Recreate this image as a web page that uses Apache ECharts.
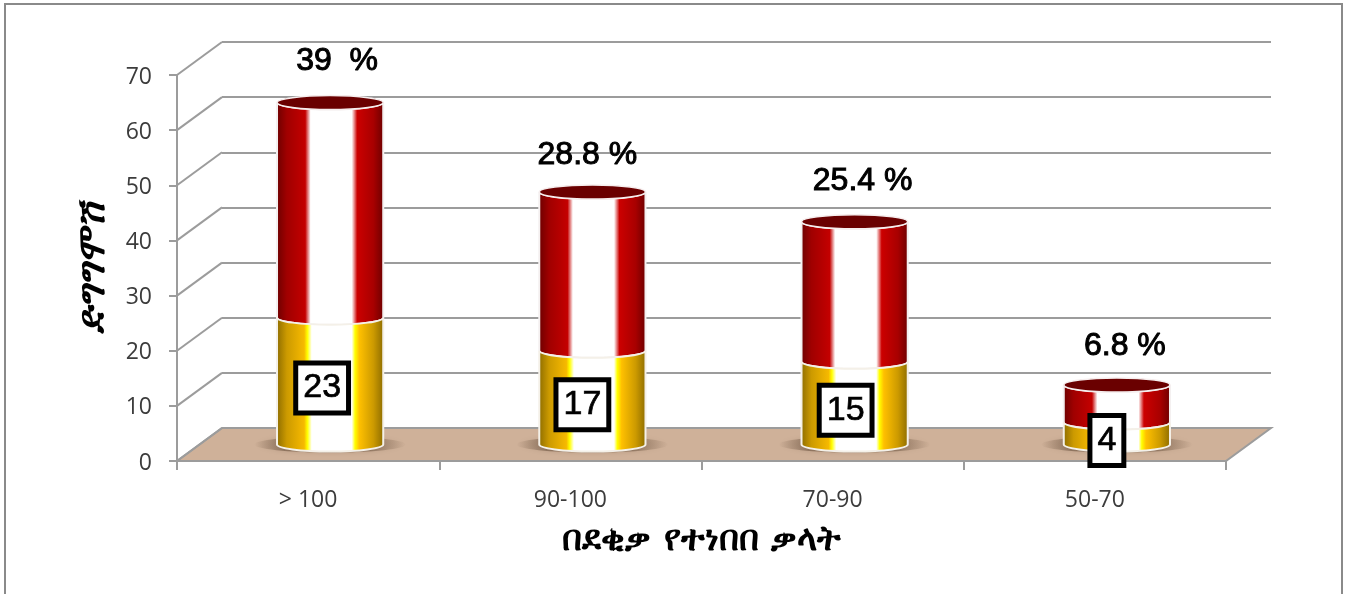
<!DOCTYPE html>
<html>
<head>
<meta charset="utf-8">
<title>chart</title>
<style>
  html, body { margin: 0; padding: 0; background: #fff; }
  #chart { width: 1347px; height: 594px; }
</style>
<script src="https://cdn.jsdelivr.net/npm/echarts@6/dist/echarts.min.js"></script>
</head>
<body>
<div id="chart"></div>
<script>
const categories = ['> 100', '90-100', '70-90', '50-70'];
const countValues = [23, 17, 15, 4];
const percentValues = [39, 28.8, 25.4, 6.8];
const percentLabels = ['39  %', '28.8 %', '25.4 %', '6.8 %'];
const yTicks = [0, 10, 20, 30, 40, 50, 60, 70];
const xTitle = 'በደቂቃ የተነበበ ቃላት';
const yTitle = 'ድግግሞሽ';

// label nudges, hand placed like in the original
const countNudgeX = [-8, -10, -9, -10];
const percentNudgeX = [7, -5, 8, 8];
const percentNudgeY = [-41, -37, -41, -39];

const depthX = 45;
const depthY = -33;
const barRatio = 0.405;
const capRy = 7;
const lineColor = '#9c9c9c';
const textColor = '#3c3c3c';

const redStops = [
  [0, '#6a0000'], [0.1, '#a00000'], [0.27, '#c40000'], [0.32, '#ffffff'],
  [0.7, '#ffffff'], [0.75, '#cc0000'], [0.9, '#a80000'], [1, '#6a0000']
];
const goldStops = [
  [0, '#8a6a00'], [0.1, '#cc9a00'], [0.26, '#f6b900'], [0.29, '#ffff00'], [0.33, '#ffffff'],
  [0.7, '#ffffff'], [0.73, '#ffff00'], [0.77, '#ffc000'], [0.9, '#cc9a00'], [1, '#8a6a00']
];
const shadowStops = [
  [0, 'rgba(110,85,65,0)'], [0.2, 'rgba(110,85,65,0.6)'],
  [0.75, 'rgba(110,85,65,0.6)'], [1, 'rgba(110,85,65,0)']
];

function sideGradient(stops) {
  return {
    type: 'linear', x: 0, y: 0, x2: 1, y2: 0,
    colorStops: stops.map(s => ({ offset: s[0], color: s[1] }))
  };
}

// one piece of the cylinder between two values, front rim curved
function segmentPath(cx, r, yTop, yBottom) {
  return 'M' + (cx - r) + ' ' + yTop +
    'A' + r + ' ' + capRy + ' 0 0 0 ' + (cx + r) + ' ' + yTop +
    'L' + (cx + r) + ' ' + yBottom +
    'A' + r + ' ' + capRy + ' 0 0 1 ' + (cx - r) + ' ' + yBottom + 'Z';
}

const renderFloor = (params, api) => {
  const cs = params.coordSys;
  const y0 = api.coord([0, 0])[1];
  return {
    type: 'polygon',
    shape: { points: [
      [cs.x, y0], [cs.x + depthX, y0 + depthY],
      [cs.x + cs.width + depthX, y0 + depthY], [cs.x + cs.width, y0]
    ] },
    style: { fill: '#cfb199', stroke: lineColor, lineWidth: 2 }
  };
};

const renderWall = (params, api) => {
  const cs = params.coordSys;
  const y = api.coord([0, api.value(0)])[1];
  return {
    type: 'line',
    shape: { x1: cs.x, y1: y, x2: cs.x + depthX, y2: y + depthY },
    style: { stroke: lineColor, lineWidth: 2 }
  };
};

const renderShadow = (params, api) => {
  const p = api.coord([api.value(0), 0]);
  const r = api.size([1, 0])[0] * barRatio / 2;
  return {
    type: 'ellipse',
    shape: { cx: p[0], cy: p[1], rx: r * 1.43, ry: 8 },
    style: {
      fill: sideGradient(shadowStops),
      shadowBlur: 5,
      shadowColor: 'rgba(110,85,65,0.4)'
    }
  };
};

const renderUpper = (params, api) => {
  const i = api.value(0);
  const bottom = api.coord([i, api.value(1)]);
  const top = api.coord([i, api.value(2)]);
  const r = api.size([1, 0])[0] * barRatio / 2;
  const cx = bottom[0];
  return {
    type: 'group',
    children: [
      {
        type: 'path',
        shape: { pathData: segmentPath(cx, r, top[1], bottom[1]) },
        style: { fill: sideGradient(redStops), stroke: '#f4f0f0', lineWidth: 2 }
      },
      {
        type: 'ellipse',
        shape: { cx: cx, cy: top[1], rx: r, ry: capRy },
        style: { fill: '#6a0000', stroke: '#f6eeee', lineWidth: 1.5 }
      },
      {
        type: 'text',
        style: {
          x: cx + percentNudgeX[i],
          y: top[1] + percentNudgeY[i],
          text: percentLabels[i],
          align: 'center',
          verticalAlign: 'middle',
          font: '32px "Liberation Sans", Arial, sans-serif',
          fill: '#000',
          stroke: '#000',
          lineWidth: 1
        }
      }
    ]
  };
};

const renderLower = (params, api) => {
  const i = api.value(0);
  const bottom = api.coord([i, 0]);
  const top = api.coord([i, api.value(1)]);
  const r = api.size([1, 0])[0] * barRatio / 2;
  const cx = bottom[0];
  return {
    type: 'group',
    children: [
      {
        type: 'path',
        shape: { pathData: segmentPath(cx, r, top[1], bottom[1]) },
        style: { fill: sideGradient(goldStops), stroke: '#f4f0e8', lineWidth: 2 }
      },
      {
        type: 'text',
        style: {
          x: cx + countNudgeX[i],
          y: (top[1] + bottom[1]) / 2 + 7,
          text: String(api.value(1)),
          align: 'center',
          verticalAlign: 'middle',
          font: '34px "Liberation Sans", Arial, sans-serif',
          fill: '#000',
          stroke: '#000',
          lineWidth: 0.7,
          backgroundColor: '#fff',
          borderColor: '#000',
          borderWidth: 5,
          borderRadius: 0,
          padding: [6, 5, 5, 5]
        }
      }
    ]
  };
};

const chart = echarts.init(document.getElementById('chart'));

const hiddenAxis = { show: false };

chart.setOption({
  animation: false,
  backgroundColor: '#fff',
  graphic: [{
    type: 'rect',
    silent: true,
    z: -10,
    shape: { x: 5, y: 4, width: 1337, height: 700 },
    style: { fill: 'none', stroke: '#8a8a8a', lineWidth: 2 }
  }],
  grid: [
    { left: 177, top: 75, width: 1049, height: 386 },   // front plane, carries the axes
    { left: 199, top: 58.5, width: 1049, height: 386 }, // plane the cylinders stand on
    { left: 222, top: 42, width: 1049, height: 386 }    // back wall
  ],
  xAxis: [
    {
      gridIndex: 0,
      type: 'category',
      data: categories,
      z: 5,
      axisLine: { lineStyle: { color: lineColor, width: 2 } },
      axisTick: { show: true, length: 9, lineStyle: { color: lineColor, width: 2 } },
      axisLabel: { margin: 28, fontSize: 23, color: textColor, fontFamily: '"Open Sans", sans-serif', interval: 0 },
      name: xTitle,
      nameLocation: 'middle',
      nameGap: 62,
      nameTextStyle: { fontSize: 35, fontWeight: 'bold', color: '#000', fontFamily: '"DejaVu Sans", "Noto Sans", sans-serif' }
    },
    { gridIndex: 1, type: 'category', data: categories, ...hiddenAxis },
    { gridIndex: 2, type: 'category', data: categories, ...hiddenAxis }
  ],
  yAxis: [
    {
      gridIndex: 0,
      type: 'value',
      min: 0,
      max: 70,
      interval: 10,
      z: 5,
      splitLine: { show: false },
      axisLine: { show: true, lineStyle: { color: lineColor, width: 2 } },
      axisTick: { show: true, length: 8, lineStyle: { color: lineColor, width: 2 } },
      // short line box so the digits sit a bit under the tick
      axisLabel: { margin: 25, fontSize: 23, color: textColor, fontFamily: '"Open Sans", sans-serif', verticalAlign: 'top', lineHeight: 4 },
      name: yTitle,
      nameLocation: 'middle',
      nameGap: 64,
      nameTextStyle: { fontSize: 38, fontWeight: 'bold', fontStyle: 'italic', color: '#000', fontFamily: '"DejaVu Sans", "Noto Sans", sans-serif' }
    },
    { gridIndex: 1, type: 'value', min: 0, max: 70, interval: 10, ...hiddenAxis },
    {
      gridIndex: 2,
      type: 'value',
      min: 0,
      max: 70,
      interval: 10,
      axisLine: { show: false },
      axisTick: { show: false },
      axisLabel: { show: false },
      splitLine: { show: true, lineStyle: { color: lineColor, width: 2 } }
    }
  ],
  series: [
    { type: 'custom', name: 'floor', xAxisIndex: 0, yAxisIndex: 0, z: 1, silent: true, data: [[0]], renderItem: renderFloor },
    { type: 'custom', name: 'wall', xAxisIndex: 0, yAxisIndex: 0, z: 1, silent: true, data: yTicks.map(v => [v]), renderItem: renderWall },
    { type: 'custom', name: 'shadow', xAxisIndex: 1, yAxisIndex: 1, z: 2, silent: true, data: categories.map((c, i) => [i]), renderItem: renderShadow },
    { type: 'custom', name: 'percent', xAxisIndex: 1, yAxisIndex: 1, z: 3, data: percentValues.map((v, i) => [i, countValues[i], countValues[i] + v]), renderItem: renderUpper },
    { type: 'custom', name: 'count', xAxisIndex: 1, yAxisIndex: 1, z: 6, data: countValues.map((v, i) => [i, v]), renderItem: renderLower }
  ]
});

window.addEventListener('resize', () => chart.resize());
</script>
</body>
</html>
